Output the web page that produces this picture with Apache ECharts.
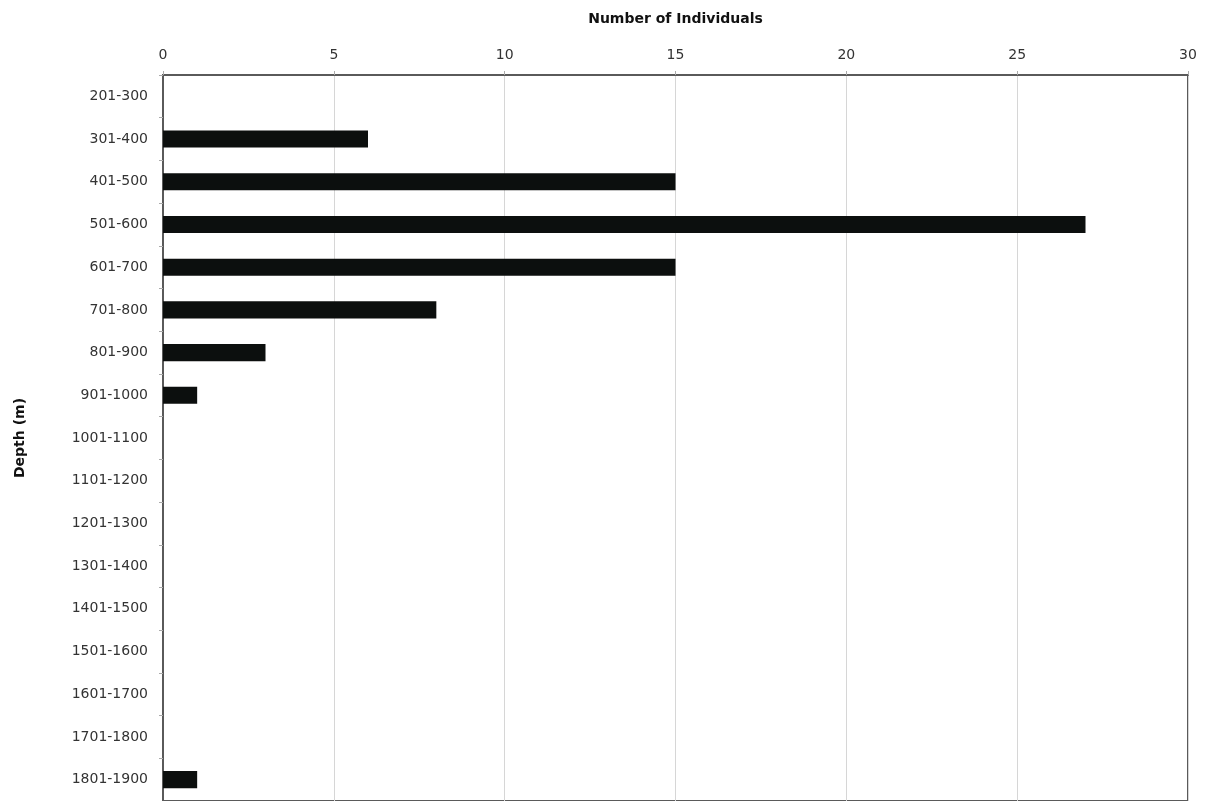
<!DOCTYPE html>
<html>
<head>
<meta charset="utf-8">
<script src="https://cdn.jsdelivr.net/npm/echarts@6/dist/echarts.min.js"></script>
<style>html,body{margin:0;padding:0;background:#fff;}#c{width:1208px;height:801px;}</style>
</head>
<body>
<div id="c"></div>
<script>
const depthCategories = ["201-300","301-400","401-500","501-600","601-700","701-800","801-900","901-1000","1001-1100","1101-1200","1201-1300","1301-1400","1401-1500","1501-1600","1601-1700","1701-1800","1801-1900"];
const individuals = [0,6,15,27,15,8,3,1,0,0,0,0,0,0,0,0,1];
const xMin = 0, xMax = 30, xStep = 5;

const chart = echarts.init(document.getElementById('c'), null, {renderer:'canvas'});
chart.setOption({
  animation:false,
  backgroundColor:'#fff',
  grid:{left:163,right:20,top:75,bottom:0,show:true,borderColor:'#5a5a5a',borderWidth:2,backgroundColor:'transparent'},
  xAxis:{
    type:'value',position:'top',min:xMin,max:xMax,interval:xStep,
    name:'Number of Individuals',nameLocation:'middle',nameGap:49,
    nameTextStyle:{fontFamily:'DejaVu Sans',fontWeight:'bold',fontSize:14,color:'#111'},
    axisLine:{show:true,lineStyle:{color:'#5a5a5a',width:2}},
    axisTick:{show:true,length:4,lineStyle:{color:'#aaa'}},
    axisLabel:{margin:13,fontFamily:'DejaVu Sans',fontSize:14,color:'#333'},
    splitLine:{show:true,lineStyle:{color:'#d6d6d6',width:1}}
  },
  yAxis:{
    type:'category',data:depthCategories,inverse:true,
    name:'Depth (m)',nameLocation:'middle',nameGap:136,nameRotate:90,
    nameTextStyle:{fontFamily:'DejaVu Sans',fontWeight:'bold',fontSize:14,color:'#111'},
    axisLine:{show:true,lineStyle:{color:'#5a5a5a',width:2}},
    axisTick:{show:true,length:4,lineStyle:{color:'#aaa'}},
    axisLabel:{margin:15,fontFamily:'DejaVu Sans',fontSize:14,color:'#333'},
    splitLine:{show:false}
  },
  series:[{
    type:'bar',data:individuals,barCategoryGap:'60%',
    itemStyle:{color:'#0c0f0e'}
  }]
});
</script>
</body>
</html>
